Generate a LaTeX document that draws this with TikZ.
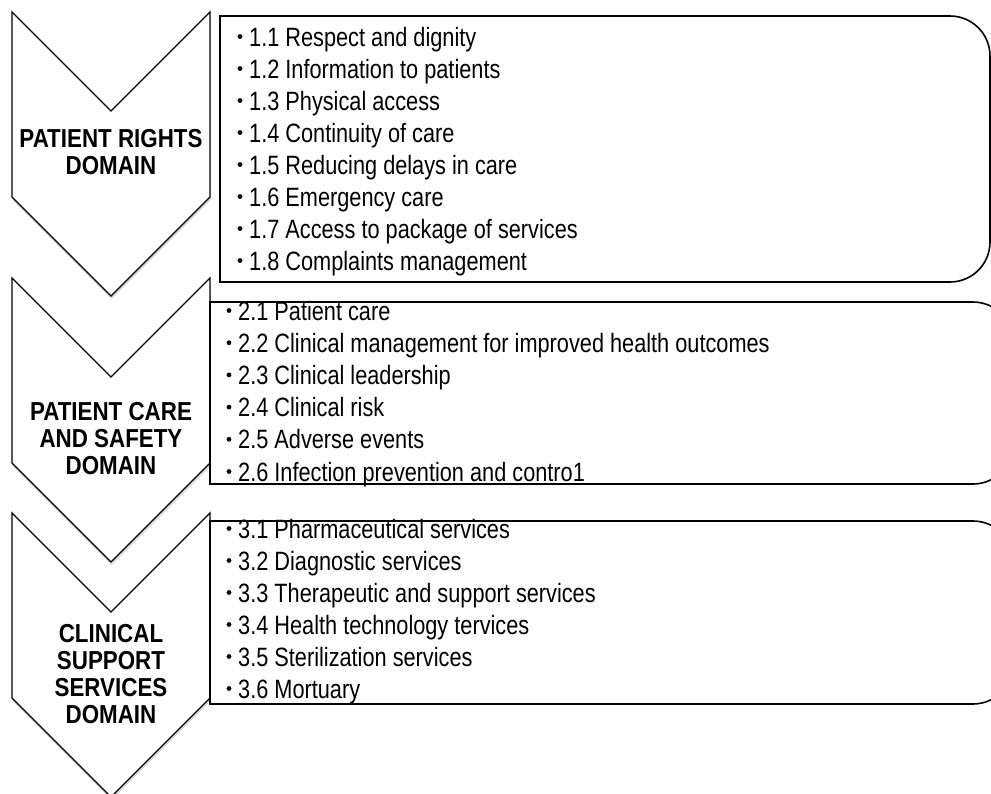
\documentclass[tikz,border=0pt]{standalone}
\usepackage{fontspec}
\setmainfont{Liberation Sans}[FakeStretch=0.82, BoldFeatures={FakeStretch=0.86}]
\usepackage{tikz}

\begin{document}
\begin{tikzpicture}[x=1pt, y=-1pt,
        chevron/.style={draw, fill=white, line width=1.3pt, line join=miter},
        shade/.style={fill=black, opacity=0.15},
        listbox/.style={draw, fill=white, line width=1.6pt},
        domainlabel/.style={align=center, inner sep=0pt, font=\bfseries\fontsize{26}{27}\selectfont},
        item/.style={anchor=base west, inner sep=0pt, font=\fontsize{26.5}{32}\selectfont},
        dot/.style={fill=black}
      ]
      \useasboundingbox (0,0) rectangle (991,793);
      \clip (0,0) rectangle (991,793);

      % Domain chevrons, each with a soft shadow underneath
      \foreach \t in {12, 278, 513} {
        \fill[shade] (12.5,{\t+3}) -- (111.5,{\t+102}) -- (210.5,{\t+3}) -- (210.5,{\t+188})
          -- (111.5,{\t+287}) -- (12.5,{\t+188}) -- cycle;
      }
      \draw[chevron] (12,12) -- (111,111) -- (210,12) -- (210,197) -- (111,296) -- (12,197) -- cycle;
      \draw[chevron] (12,278) -- (111,377) -- (210,278) -- (210,463) -- (111,562) -- (12,463) -- cycle;
      \draw[chevron] (12,513) -- (111,612) -- (210,513) -- (210,698) -- (111,797) -- (12,698) -- cycle;

      \node[domainlabel] (rights) at (111,152) {PATIENT RIGHTS\\DOMAIN};
      \node[domainlabel] (safety) at (111,439) {PATIENT CARE\\AND SAFETY\\DOMAIN};
      \node[domainlabel] (support) at (111,674) {CLINICAL\\SUPPORT\\SERVICES\\DOMAIN};

      % List boxes (rounded on the right only)
      \draw[listbox] (600,282) -- (220,282) -- (220,16) -- (600,16) [rounded corners=40pt] -- (990,16) -- (990,282) -- cycle;
      \draw[listbox] (600,484) -- (210,484) -- (210,302) -- (600,302) [rounded corners=40pt] -- (1013,302) -- (1013,484) -- cycle;
      \draw[listbox] (600,704) -- (210,704) -- (210,521) -- (600,521) [rounded corners=40pt] -- (1013,521) -- (1013,704) -- cycle;

      % Patient rights
      \foreach \txt [count=\i] in {1.1 Respect and dignity, 1.2 Information to patients,
          1.3 Physical access, 1.4 Continuity of care, 1.5 Reducing delays in care,
          1.6 Emergency care, 1.7 Access to package of services, 1.8 Complaints management} {
        \fill[dot] (240, {36.5+32*(\i-1)}) circle (2.4pt);
        \node[item] (pr\i) at (249, {46+32*(\i-1)}) {\txt};
      }

      % Patient care and safety
      \foreach \txt [count=\i] in {2.1 Patient care, 2.2 Clinical management for improved health outcomes,
          2.3 Clinical leadership, 2.4 Clinical risk, 2.5 Adverse events,
          2.6 Infection prevention and contro1} {
        \fill[dot] (229, {310.5+32.2*(\i-1)}) circle (2.4pt);
        \node[item] (pc\i) at (238, {320+32.2*(\i-1)}) {\txt};
      }

      % Clinical support services
      \foreach \txt [count=\i] in {3.1 Pharmaceutical services, 3.2 Diagnostic services,
          3.3 Therapeutic and support services, 3.4 Health technology tervices,
          3.5 Sterilization services, 3.6 Mortuary} {
        \fill[dot] (229, {528.5+32*(\i-1)}) circle (2.4pt);
        \node[item] (cs\i) at (238, {538+32*(\i-1)}) {\txt};
      }

    \end{tikzpicture}
\end{document}
